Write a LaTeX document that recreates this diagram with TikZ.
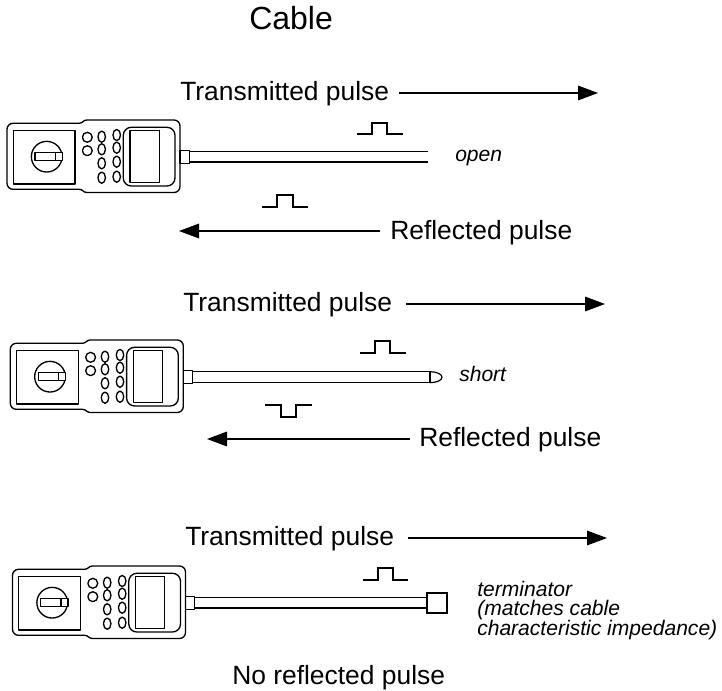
\documentclass[tikz,border=0pt]{standalone}
\usepackage{fontspec}
\setmainfont{Liberation Sans}
\usetikzlibrary{arrows.meta}
\begin{document}
\begin{tikzpicture}[x=0.75pt,y=-0.75pt,
  dev/.style={line width=1pt, line join=round},
  wire/.style={line width=0.9pt},
  sig/.style={line width=0.9pt, -{Triangle[length=15pt,width=11pt]}},
  pulse/.style={line width=0.9pt},
  lbl/.style={inner sep=0pt, font=\fontsize{19.8}{24}\selectfont},
  note/.style={inner sep=0pt, font=\fontsize{15.8}{13.9}\selectfont\itshape, align=left},
  heading/.style={inner sep=0pt, font=\fontsize{24}{28}\selectfont},
  meter/.pic={
    % housing
    \draw[dev,rounded corners=4.5pt] (0,36) -- (0,3.3) -- (66,3.3)
      .. controls (76,3.3) and (76,0) .. (86,0) -- (173,0) -- (173,72.5)
      -- (86,72.5) .. controls (76,72.5) and (76,69.3) .. (66,69.3)
      -- (0,69.3) -- cycle;
    % battery compartment and rotary knob
    \draw[dev] (6.3,10.7) rectangle (68,64);
    \draw[dev] (39.7,36.7) circle[radius=11.5pt];
    \draw[dev,fill=white] (28,32.6) rectangle (55.5,40.6);
    \draw[dev] (48.5,32.6) -- (48.5,40.6);
    % keypad
    \foreach \yy in {17.3,30.7} \draw[dev] (80.3,\yy) circle[radius=3.7pt];
    \foreach \yy in {16.7,29.3,43.3,57.7}
      \draw[dev] (94.7,\yy) ellipse[x radius=2.8pt,y radius=4.2pt];
    \foreach \yy in {15,27.7,41.7,56.7}
      \draw[dev] (109.7,\yy) ellipse[x radius=2.8pt,y radius=4.2pt];
    % display
    \draw[dev,rounded corners=6pt] (116.3,7.3) rectangle (168,66);
    \draw[dev] (123,10.7) rectangle (152.3,62.7);
    % cable connector
    \draw[dev] (173,30.7) rectangle (182.3,43.3);
  }
]
\useasboundingbox (0,0) rectangle (722,691);

\node[heading, anchor=base west] (title) at (249,30) {Cable};

% ---------- open cable ----------
\pic at (7,120) {meter};
\draw[wire] (189.3,151.5) -- (428,151.5) (189.3,162) -- (428,162);
\node[note, anchor=base west] (open) at (455,162) {open};
\node[lbl, anchor=base west] (t1) at (180,101) {Transmitted pulse};
\coordinate (t1end) at (598,93);
\draw[sig] ([shift={(10,-8)}]t1.base east) -- (t1end);
\draw[pulse] (357,134) -- (372,134) -- (372,123) -- (387,123) -- (387,134) -- (403,134);
\draw[pulse] (262,207) -- (277,207) -- (277,195) -- (293,195) -- (293,207) -- (308,207);
\node[lbl, anchor=base west] (r1) at (390,240) {Reflected pulse};
\coordinate (r1end) at (179,231);
\draw[sig] ([shift={(-10,-9)}]r1.base west) -- (r1end);

% ---------- shorted cable ----------
\pic at (10.3,340) {meter};
\draw[wire] (192.6,371.7) -- (430,371.7) (192.6,382.7) -- (430,382.7);
\draw[wire] (430,371.7) -- (430,382.7);
\draw[wire] (430,371.7) arc[start angle=90,end angle=-90,x radius=9pt,y radius=4.125pt];
\node[note, anchor=base west] (short) at (459,382) {short};
\node[lbl, anchor=base west] (t2) at (183,312) {Transmitted pulse};
\coordinate (t2end) at (605,304);
\draw[sig] ([shift={(14,-8)}]t2.base east) -- (t2end);
\draw[pulse] (360,353) -- (375,353) -- (375,341) -- (390,341) -- (390,353) -- (406,353);
\draw[pulse] (265,405) -- (281,405) -- (281,417) -- (296,417) -- (296,405) -- (312,405);
\node[lbl, anchor=base west] (r2) at (419,447) {Reflected pulse};
\coordinate (r2end) at (207,439);
\draw[sig] ([shift={(-9,-8)}]r2.base west) -- (r2end);

% ---------- terminated cable ----------
\pic at (12.5,566) {meter};
\draw[wire] (194.8,597.5) -- (427,597.5) (194.8,608) -- (427,608);
\draw[line width=1.6pt] (427,592.75) rectangle (447,612.75);
\node[note, anchor=base west] (term) at (477,636)
  {terminator\\(matches cable\\characteristic impedance)};
\node[lbl, anchor=base west] (t3) at (185,546) {Transmitted pulse};
\coordinate (t3end) at (607,538);
\draw[sig] ([shift={(14,-8)}]t3.base east) -- (t3end);
\draw[pulse] (362.7,580) -- (378,580) -- (378,568) -- (393,568) -- (393,580) -- (408,580);
\node[lbl, anchor=base west] (none) at (232,685) {No reflected pulse};
\end{tikzpicture}
\end{document}
